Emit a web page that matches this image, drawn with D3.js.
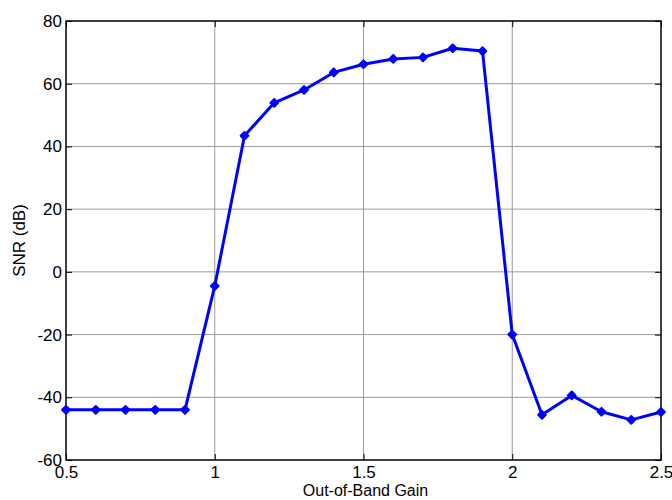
<!DOCTYPE html>
<html>
<head>
<meta charset="utf-8">
<script src="https://cdn.jsdelivr.net/npm/d3@7"></script>
<style>
  body { margin: 0; background: #fff; }
  text { font-family: "Liberation Sans", Arial, sans-serif; fill: #000; }
</style>
</head>
<body>
<svg id="chart"></svg>
<script>
// data
var gain = [0.5, 0.6, 0.7, 0.8, 0.9, 1.0, 1.1, 1.2, 1.3, 1.4, 1.5, 1.6, 1.7, 1.8, 1.9, 2.0, 2.1, 2.2, 2.3, 2.4, 2.5];
var snr = [-44, -44, -44, -44, -44, -4.5, 43.4, 53.9, 58, 63.6, 66.2, 67.9, 68.4, 71.3, 70.4, -20, -45.6, -39.4, -44.6, -47.2, -44.7];
var xTicks = [0.5, 1, 1.5, 2, 2.5];
var yTicks = [-60, -40, -20, 0, 20, 40, 60, 80];

var data = gain.map(function(g, i) { return { x: g, y: snr[i] }; });

var margin = { top: 21, right: 11, bottom: 40, left: 66 },
    width = 672 - margin.left - margin.right,
    height = 500 - margin.top - margin.bottom;

var svg = d3.select("#chart")
    .attr("width", 672)
    .attr("height", 500)
    .append("g")
    .attr("transform", "translate(" + margin.left + "," + margin.top + ")");

var x = d3.scaleLinear().domain([0.5, 2.5]).range([0, width]);
var y = d3.scaleLinear().domain([-60, 80]).range([height, 0]);

// plain hyphen minus like the original
var fmt = function(d) { return String(d); };

// grid lines
svg.append("g").selectAll("line")
    .data(xTicks.slice(1, -1))
    .enter().append("line")
    .attr("x1", function(d) { return x(d); })
    .attr("x2", function(d) { return x(d); })
    .attr("y1", 0).attr("y2", height)
    .style("stroke", "#9a9a9a").style("stroke-width", 1);

svg.append("g").selectAll("line")
    .data(yTicks.slice(1, -1))
    .enter().append("line")
    .attr("y1", function(d) { return y(d); })
    .attr("y2", function(d) { return y(d); })
    .attr("x1", 0).attr("x2", width)
    .style("stroke", "#9a9a9a").style("stroke-width", 1);

// axes with inward ticks on all sides
function styleAxis(g) {
    g.select(".domain").remove();
    g.selectAll(".tick line").style("stroke", "#000");
    g.selectAll(".tick text").style("font-size", "17px")
        .style("font-family", "'Liberation Sans', Arial, sans-serif");
}

svg.append("g")
    .attr("transform", "translate(0," + height + ")")
    .call(d3.axisBottom(x).tickValues(xTicks).tickFormat(fmt).tickSizeInner(-6).tickPadding(6))
    .call(styleAxis);

svg.append("g")
    .call(d3.axisTop(x).tickValues(xTicks).tickSizeInner(-6).tickFormat(""))
    .call(styleAxis);

svg.append("g")
    .call(d3.axisLeft(y).tickValues(yTicks).tickFormat(fmt).tickSizeInner(-6).tickPadding(4))
    .call(styleAxis);

svg.append("g")
    .attr("transform", "translate(" + width + ",0)")
    .call(d3.axisRight(y).tickValues(yTicks).tickSizeInner(-6).tickFormat(""))
    .call(styleAxis);

// frame
svg.append("rect")
    .attr("width", width)
    .attr("height", height)
    .style("fill", "none")
    .style("stroke", "#000")
    .style("stroke-width", 1.5);

// line
var line = d3.line()
    .x(function(d) { return x(d.x); })
    .y(function(d) { return y(d.y); });

svg.append("path")
    .datum(data)
    .attr("d", line)
    .style("fill", "none")
    .style("stroke", "#0000ff")
    .style("stroke-width", 3)
    .style("stroke-linejoin", "round");

// diamond markers (square turned 45 degrees)
svg.selectAll(".point")
    .data(data)
    .enter().append("path")
    .attr("class", "point")
    .attr("d", d3.symbol().type(d3.symbolSquare).size(30))
    .attr("transform", function(d) { return "translate(" + x(d.x) + "," + y(d.y) + ") rotate(45)"; })
    .style("fill", "#0000ff")
    .style("stroke", "#0000ff")
    .style("stroke-width", 2)
    .style("stroke-linejoin", "round");

// axis labels
svg.append("text")
    .attr("x", width / 2 + 2)
    .attr("y", height + 36)
    .style("text-anchor", "middle")
    .style("font-size", "16px")
    .text("Out-of-Band Gain");

svg.append("text")
    .attr("transform", "rotate(-90)")
    .attr("x", -height / 2)
    .attr("y", -41)
    .style("text-anchor", "middle")
    .style("font-size", "17px")
    .text("SNR (dB)");
</script>
</body>
</html>
